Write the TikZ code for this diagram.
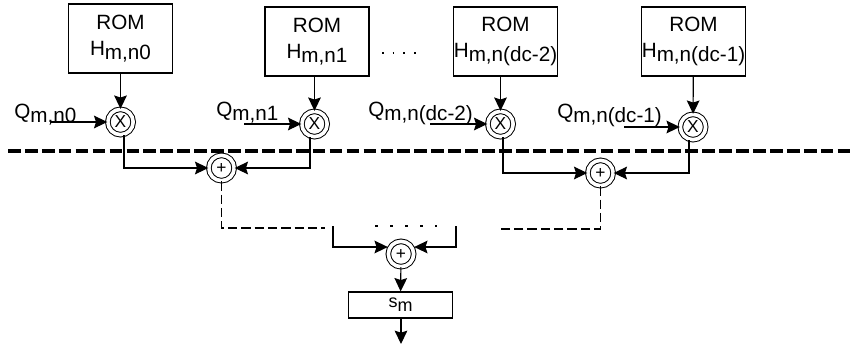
\documentclass[tikz,border=0pt]{standalone}
\usepackage{fontspec}
\setmainfont{Liberation Sans}
\usetikzlibrary{arrows.meta,shapes.geometric}
\newcommand{\subtxt}[2]{#1\raisebox{-3pt}{#2}}
\tikzset{
  x=0.75pt,y=-0.75pt,
  rombox/.style={draw=black,line width=1.1pt,minimum width=78pt,minimum height=51.5pt,inner sep=0pt,align=center,font=\fontsize{15.5}{20}\selectfont},
  opcirc/.style={draw=black,circle,double=white,double distance=2.7pt,line width=0.75pt,minimum size=19pt,inner sep=0pt,font=\fontsize{13}{14}\selectfont},
  wire/.style={draw=black,line width=0.85pt,-{Stealth[length=10pt,width=9.5pt,inset=1.5pt]}},
  dashwire/.style={draw=black,line width=1.25pt,dash pattern=on 7pt off 3pt},
  bigdash/.style={draw=black,line width=2.4pt,dash pattern=on 9.5pt off 3.2pt},
  qlabel/.style={anchor=base west,inner sep=0pt,font=\fontsize{15.5}{16}\selectfont},
  dotline/.style={draw=black,line width=2pt,dash pattern=on 2pt off 9.25pt},
  dotthin/.style={draw=black,line width=1pt,dash pattern=on 1.2pt off 6.8pt},
}
\begin{document}
\begin{tikzpicture}
\useasboundingbox (0,0) rectangle (850,344);
\node[rombox] (r1) at (120.5,38.5) {ROM\\\subtxt{H}{m,n0}};
\node[rombox] (r2) at (317,41.5) {ROM\\\subtxt{H}{m,n1}};
\node[rombox] (r3) at (505.5,41.5) {ROM\\\subtxt{H}{m,n(dc-2)}};
\node[rombox] (r4) at (693.5,41.5) {ROM\\\subtxt{H}{m,n(dc-1)}};
\node[opcirc] (x1) at (120.5,122) {X};
\node[opcirc] (x2) at (314.5,124) {X};
\node[opcirc] (x3) at (500.5,124) {X};
\node[opcirc] (x4) at (693,127) {X};
\node[opcirc] (a1) at (221.5,168) {+};
\node[opcirc] (a2) at (600.5,173) {+};
\node[opcirc] (a3) at (401,254) {+};
\node[draw=black,line width=0.9pt,minimum width=78.5pt,minimum height=19.5pt,inner sep=0pt,font=\fontsize{13.5}{15}\selectfont] (s) at (400.5,305) {\subtxt{s}{m}};
\node[qlabel] (q1) at (14,118) {\subtxt{Q}{m,n0}};
\node[qlabel] (q2) at (216,116) {\subtxt{Q}{m,n1}};
\node[qlabel] (q3) at (368,116) {\subtxt{Q}{m,n(dc-2)}};
\node[qlabel] (q4) at (557,118) {\subtxt{Q}{m,n(dc-1)}};
\coordinate (i1) at (50,122);
\coordinate (i2) at (244,124);
\coordinate (i3) at (430,124);
\coordinate (i4) at (624,127);
\draw[wire] (i1) -- (x1);
\draw[wire] (i2) -- (x2);
\draw[wire] (i3) -- (x3);
\draw[wire] (i4) -- (x4);
\draw[wire] (x1 |- r1.south) -- (x1);
\draw[wire] (x2 |- r2.south) -- (x2);
\draw[wire] (x3 |- r3.south) -- (x3);
\draw[wire] (r4) -- (x4);
\coordinate (bl) at (8,151);
\coordinate (br) at (850,151);
\draw[bigdash] (bl) -- (br);
\draw[wire] ([xshift=2.6pt]x1.south) |- (a1);
\draw[wire] ([xshift=-3.4pt]x2.south) |- (a1);
\draw[wire] ([xshift=1.9pt]x3.south) |- (a2);
\draw[wire] ([xshift=-3pt]x4.south) |- (a2);
\coordinate (d1) at (325,228);
\coordinate (d2) at (500,229);
\draw[dashwire] (a1.south) -- (a1.south |- d1) -- (d1);
\draw[dashwire] (a2.south) -- (a2.south |- d2) -- (d2);
\coordinate (bkl) at (333,226);
\coordinate (bkr) at (456,226);
\coordinate (bjl) at (333,247);
\coordinate (bjr) at (456,247);
\draw[wire] (bkl) -- (bjl) -- (bjl -| a3.west);
\draw[wire] (bkr) -- (bjr) -- (bjr -| a3.east);
\coordinate (dl) at (375,226);
\coordinate (dr) at (437,226);
\draw[dotline] (dl) -- (dr);
\coordinate (tl) at (382,53);
\coordinate (tr) at (417,53);
\draw[dotthin] (tl) -- (tr);
\draw[wire] (a3) -- (s);
\coordinate (out) at (401,344);
\draw[wire] (s.south -| out) -- (out);
\end{tikzpicture}
\end{document}
